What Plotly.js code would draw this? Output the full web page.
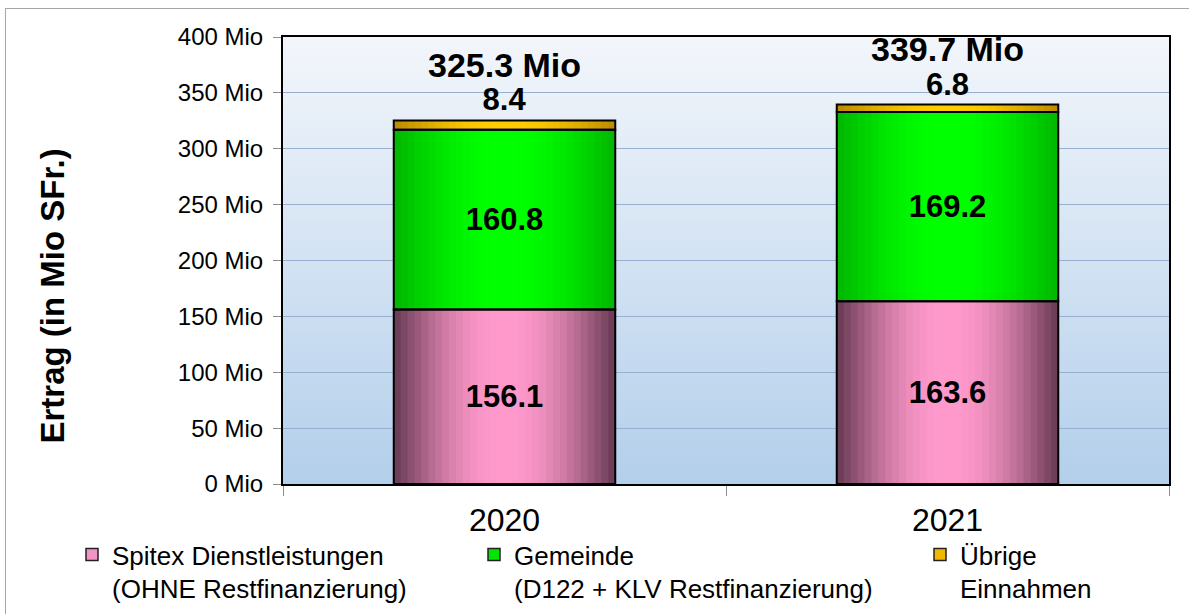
<!DOCTYPE html>
<html>
<head>
<meta charset="utf-8">
<script src="https://cdn.plot.ly/plotly-3.0.1.min.js"></script>
<style>
  html, body { margin: 0; padding: 0; overflow: hidden; background: #ffffff; }
  #chart { width: 1189px; height: 614px; position: absolute; left: 0; top: 0; }
  #frame { position: absolute; left: 5px; top: 8px; width: 1400px; height: 800px;
           border: 1px solid #a6a6a6; pointer-events: none; }
</style>
</head>
<body>
<div id="chart"></div>
<div id="frame"></div>
<script>
// ---------------- data ----------------
const categories = ['2020', '2021'];
const spitex = [156.1, 163.6];
const gemeinde = [160.8, 169.2];
const uebrige = [8.4, 6.8];
const totals = [325.3, 339.7];
const seriesNames = [
  'Spitex Dienstleistungen<br>(OHNE Restfinanzierung)',
  'Gemeinde<br>(D122 + KLV Restfinanzierung)',
  'Übrige<br>Einnahmen'
];
const yTitle = 'Ertrag (in Mio SFr.)';
const tickSuffix = ' Mio';

// ---------------- styles ----------------
const FONT = 'Liberation Sans, Arial, sans-serif';
const segStyles = [
  { edge: [110, 62, 88],  center: [255, 153, 204], legend: '#f294c6' },
  { edge: [0, 185, 0],    center: [0, 255, 0],     legend: '#00e600' },
  { edge: [190, 142, 0],  center: [255, 204, 0],   legend: '#f0b800' }
];
const BAR_W = 0.5;
const LAYERS = 16;

function mix(a, b, t) {
  return 'rgb(' + a.map((v, i) => Math.round(v + (b[i] - v) * t)).join(',') + ')';
}

const segValues = [spitex, gemeinde, uebrige];
const bases = [
  spitex.map(() => 0),
  spitex.slice(),
  spitex.map((v, i) => v + gemeinde[i])
];

const traces = [];
// gradient layers
segValues.forEach((vals, s) => {
  for (let k = 0; k < LAYERS; k++) {
    const w = BAR_W * (1 - k / LAYERS);
    const t = Math.sin((k / (LAYERS - 1)) * Math.PI / 2);
    traces.push({
      type: 'bar', x: categories, y: vals, base: bases[s],
      width: categories.map(() => w),
      marker: { color: mix(segStyles[s].edge, segStyles[s].center, t), line: { width: 0 } },
      showlegend: false, hoverinfo: 'skip'
    });
  }
});
// outlines + labels
segValues.forEach((vals, s) => {
  const isTop = s === 2;
  traces.push({
    type: 'bar', x: categories, y: vals, base: bases[s],
    width: categories.map(() => BAR_W),
    marker: { color: 'rgba(0,0,0,0)', line: { color: '#000000', width: 2 } },
    text: vals.map(v => v.toFixed(1)),
    textposition: isTop ? 'outside' : 'inside',
    insidetextanchor: 'middle',
    textangle: 0,
    textfont: { family: FONT, size: 31, color: '#000000', weight: 'bold' },
    outsidetextfont: { family: FONT, size: 31, color: '#000000', weight: 'bold' },
    constraintext: 'none',
    cliponaxis: false,
    showlegend: false, hoverinfo: 'skip'
  });
});
// legend entries
const legendIds = ['legend', 'legend2', 'legend3'];
segValues.forEach((vals, s) => {
  traces.push({
    type: 'bar', x: categories, y: vals.map(() => null),
    name: seriesNames[s], legend: legendIds[s],
    marker: { color: segStyles[s].legend, line: { color: '#222222', width: 1.5 } },
    showlegend: true, hoverinfo: 'skip'
  });
});

// total labels
const annotations = categories.map((c, i) => ({
  x: i, y: totals[i], xref: 'x', yref: 'y',
  text: '<b>' + totals[i].toFixed(1) + ' Mio</b>',
  showarrow: false, yanchor: 'bottom', yshift: 34,
  font: { family: FONT, size: 34, color: '#000000' }
}));
annotations.push({
  xref: 'paper', yref: 'paper', x: -0.2604, y: 0.42,
  xanchor: 'center', yanchor: 'middle', textangle: -90,
  text: '<b>' + yTitle + '</b>', showarrow: false,
  font: { family: FONT, size: 33, color: '#000000' }
});

const bgSvg = '<svg xmlns="http://www.w3.org/2000/svg" width="100" height="100" preserveAspectRatio="none">' +
  '<defs><linearGradient id="g" x1="0" y1="0" x2="0" y2="1">' +
  '<stop offset="0" stop-color="#f3f6fb"/><stop offset="1" stop-color="#b3cfeb"/>' +
  '</linearGradient></defs><rect width="100" height="100" fill="url(#g)"/></svg>';

const legendBase = {
  orientation: 'v', xref: 'container', yref: 'container', yanchor: 'top', xanchor: 'left',
  y: 1 - 531 / 614, valign: 'top', bgcolor: 'rgba(0,0,0,0)', borderwidth: 0,
  font: { family: FONT, size: 26, color: '#000000' }, itemclick: false
};

const layout = {
  width: 1189, height: 614,
  margin: { l: 283, r: 20, t: 37, b: 130, autoexpand: false },
  paper_bgcolor: 'rgba(0,0,0,0)', plot_bgcolor: 'rgba(0,0,0,0)',
  barmode: 'overlay',
  font: { family: FONT, color: '#000000' },
  xaxis: {
    type: 'category', range: [-0.5, 1.5], automargin: false,
    showline: true, linecolor: '#000000', linewidth: 2, mirror: true,
    ticks: 'outside', tickson: 'boundaries', ticklen: 10, tickcolor: '#8c8c8c', tickwidth: 1,
    tickfont: { family: FONT, size: 32, color: '#000000' }, tickangle: 0,
    ticklabelstandoff: 7,
    showgrid: false, fixedrange: true
  },
  yaxis: {
    range: [0, 400], dtick: 50, tick0: 0, ticksuffix: tickSuffix, automargin: false,
    showline: true, linecolor: '#000000', linewidth: 2, mirror: true,
    ticks: 'outside', ticklen: 8, tickcolor: '#8c8c8c', tickwidth: 1,
    tickfont: { family: FONT, size: 24, color: '#000000' },
    ticklabelstandoff: 5,
    showgrid: true, gridcolor: '#98afcf', gridwidth: 1,
    zeroline: false, fixedrange: true
  },
  images: [{
    source: 'data:image/svg+xml;charset=utf-8,' + encodeURIComponent(bgSvg),
    xref: 'paper', yref: 'paper', x: 0, y: 1, sizex: 1, sizey: 1,
    xanchor: 'left', yanchor: 'top', sizing: 'stretch', layer: 'below'
  }],
  annotations: annotations,
  legend: Object.assign({}, legendBase, { x: 72 / 1189 }),
  legend2: Object.assign({}, legendBase, { x: 474 / 1189 }),
  legend3: Object.assign({}, legendBase, { x: 920 / 1189 }),
  showlegend: true
};

Plotly.newPlot('chart', traces, layout, { displayModeBar: false, staticPlot: true });
</script>
</body>
</html>
